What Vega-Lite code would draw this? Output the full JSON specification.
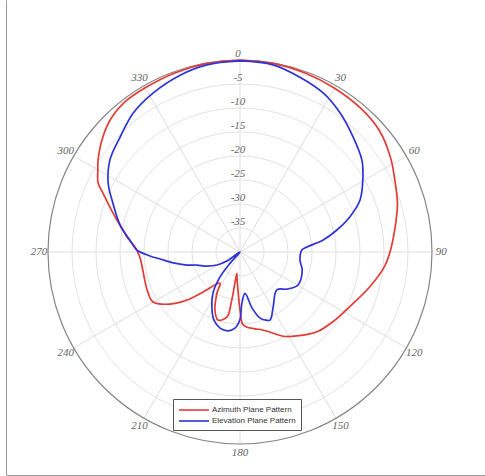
{
  "$schema": "https://vega.github.io/schema/vega-lite/v6.json",
  "width": 479,
  "height": 475,
  "autosize": {"type": "none"},
  "padding": {"left": 6, "top": 0, "right": 0, "bottom": 1},
  "background": "white",
  "config": {
    "view": {"stroke": null},
    "axis": {"grid": false, "ticks": false, "labels": false, "domainColor": "#9a9a9a", "domainWidth": 1},
    "legend": {
      "orient": "none",
      "legendX": 167,
      "legendY": 399,
      "strokeColor": "#555555",
      "fillColor": "white",
      "padding": 5,
      "symbolType": "M-1,0H5",
      "symbolSize": 100,
      "symbolStrokeWidth": 1.6,
      "labelOffset": 22,
      "labelFont": "Liberation Sans",
      "labelFontSize": 8,
      "labelColor": "#333333",
      "rowPadding": 1,
      "labelLimit": 200
    }
  },
  "datasets": {
    "rings": [{"db": -5}, {"db": -10}, {"db": -15}, {"db": -20}, {"db": -25}, {"db": -30}, {"db": -35}],
    "outer": [{"db": 0}],
    "spokes": [{"a": 0}, {"a": 30}, {"a": 60}, {"a": 90}, {"a": 120}, {"a": 150}, {"a": 180}, {"a": 210}, {"a": 240}, {"a": 270}, {"a": 300}, {"a": 330}],
    "ringLabels": [
      {"db": 0, "t": "0"}, {"db": -5, "t": "-5"}, {"db": -10, "t": "-10"}, {"db": -15, "t": "-15"},
      {"db": -20, "t": "-20"}, {"db": -25, "t": "-25"}, {"db": -30, "t": "-30"}, {"db": -35, "t": "-35"}
    ],
    "angleLabels": [
      {"a": 30, "t": "30"}, {"a": 60, "t": "60"}, {"a": 90, "t": "90"}, {"a": 120, "t": "120"},
      {"a": 150, "t": "150"}, {"a": 180, "t": "180"}, {"a": 210, "t": "210"}, {"a": 240, "t": "240"},
      {"a": 270, "t": "270"}, {"a": 300, "t": "300"}, {"a": 330, "t": "330"}
    ],
    "pattern": [
      {"series": "Azimuth Plane Pattern", "angle": 0, "db": 0},
      {"series": "Azimuth Plane Pattern", "angle": 10, "db": -0.1},
      {"series": "Azimuth Plane Pattern", "angle": 20, "db": -0.3},
      {"series": "Azimuth Plane Pattern", "angle": 30, "db": -0.6},
      {"series": "Azimuth Plane Pattern", "angle": 40, "db": -0.9},
      {"series": "Azimuth Plane Pattern", "angle": 49, "db": -1.5},
      {"series": "Azimuth Plane Pattern", "angle": 58, "db": -3.0},
      {"series": "Azimuth Plane Pattern", "angle": 66, "db": -4.6},
      {"series": "Azimuth Plane Pattern", "angle": 73, "db": -5.7},
      {"series": "Azimuth Plane Pattern", "angle": 80, "db": -7.1},
      {"series": "Azimuth Plane Pattern", "angle": 90, "db": -8.75},
      {"series": "Azimuth Plane Pattern", "angle": 96, "db": -9.8},
      {"series": "Azimuth Plane Pattern", "angle": 105, "db": -12.0},
      {"series": "Azimuth Plane Pattern", "angle": 115, "db": -14.2},
      {"series": "Azimuth Plane Pattern", "angle": 126, "db": -15.7},
      {"series": "Azimuth Plane Pattern", "angle": 136, "db": -16.9},
      {"series": "Azimuth Plane Pattern", "angle": 146, "db": -18.9},
      {"series": "Azimuth Plane Pattern", "angle": 153, "db": -20.3},
      {"series": "Azimuth Plane Pattern", "angle": 158, "db": -21.8},
      {"series": "Azimuth Plane Pattern", "angle": 164, "db": -23.1},
      {"series": "Azimuth Plane Pattern", "angle": 169, "db": -23.7},
      {"series": "Azimuth Plane Pattern", "angle": 175, "db": -24.3},
      {"series": "Azimuth Plane Pattern", "angle": 178, "db": -25.0},
      {"series": "Azimuth Plane Pattern", "angle": 180, "db": -27.9},
      {"series": "Azimuth Plane Pattern", "angle": 183, "db": -32.0},
      {"series": "Azimuth Plane Pattern", "angle": 186.5, "db": -34.5},
      {"series": "Azimuth Plane Pattern", "angle": 188.5, "db": -35.5},
      {"series": "Azimuth Plane Pattern", "angle": 189.3, "db": -33.5},
      {"series": "Azimuth Plane Pattern", "angle": 189.8, "db": -29.5},
      {"series": "Azimuth Plane Pattern", "angle": 191.3, "db": -26.2},
      {"series": "Azimuth Plane Pattern", "angle": 197.9, "db": -25.1},
      {"series": "Azimuth Plane Pattern", "angle": 203.3, "db": -26.8},
      {"series": "Azimuth Plane Pattern", "angle": 209.3, "db": -30.2},
      {"series": "Azimuth Plane Pattern", "angle": 212.8, "db": -32.3},
      {"series": "Azimuth Plane Pattern", "angle": 222.8, "db": -28.6},
      {"series": "Azimuth Plane Pattern", "angle": 227.8, "db": -25.1},
      {"series": "Azimuth Plane Pattern", "angle": 233.4, "db": -21.8},
      {"series": "Azimuth Plane Pattern", "angle": 240.1, "db": -19.1},
      {"series": "Azimuth Plane Pattern", "angle": 247.8, "db": -19.1},
      {"series": "Azimuth Plane Pattern", "angle": 259.5, "db": -19.4},
      {"series": "Azimuth Plane Pattern", "angle": 267.1, "db": -19.1},
      {"series": "Azimuth Plane Pattern", "angle": 272.7, "db": -18.1},
      {"series": "Azimuth Plane Pattern", "angle": 277.6, "db": -16.25},
      {"series": "Azimuth Plane Pattern", "angle": 287.1, "db": -12.3},
      {"series": "Azimuth Plane Pattern", "angle": 293.3, "db": -8.9},
      {"series": "Azimuth Plane Pattern", "angle": 296, "db": -7.1},
      {"series": "Azimuth Plane Pattern", "angle": 300, "db": -5.8},
      {"series": "Azimuth Plane Pattern", "angle": 303, "db": -4.75},
      {"series": "Azimuth Plane Pattern", "angle": 310, "db": -2.7},
      {"series": "Azimuth Plane Pattern", "angle": 316.5, "db": -1.25},
      {"series": "Azimuth Plane Pattern", "angle": 322.4, "db": -0.6},
      {"series": "Azimuth Plane Pattern", "angle": 330, "db": -0.5},
      {"series": "Azimuth Plane Pattern", "angle": 340, "db": -0.3},
      {"series": "Azimuth Plane Pattern", "angle": 350, "db": -0.1},
      {"series": "Azimuth Plane Pattern", "angle": 360, "db": 0},
      {"series": "Elevation Plane Pattern", "angle": 0, "db": -0.2},
      {"series": "Elevation Plane Pattern", "angle": 10, "db": -0.4},
      {"series": "Elevation Plane Pattern", "angle": 18.9, "db": -1.5},
      {"series": "Elevation Plane Pattern", "angle": 27.6, "db": -2.6},
      {"series": "Elevation Plane Pattern", "angle": 35.7, "db": -4.3},
      {"series": "Elevation Plane Pattern", "angle": 44.5, "db": -6.4},
      {"series": "Elevation Plane Pattern", "angle": 53.0, "db": -8.2},
      {"series": "Elevation Plane Pattern", "angle": 58.6, "db": -10.0},
      {"series": "Elevation Plane Pattern", "angle": 66.6, "db": -12.75},
      {"series": "Elevation Plane Pattern", "angle": 72.3, "db": -16.0},
      {"series": "Elevation Plane Pattern", "angle": 77.2, "db": -19.3},
      {"series": "Elevation Plane Pattern", "angle": 81.8, "db": -22.5},
      {"series": "Elevation Plane Pattern", "angle": 85.7, "db": -26.0},
      {"series": "Elevation Plane Pattern", "angle": 88.2, "db": -27.1},
      {"series": "Elevation Plane Pattern", "angle": 97.6, "db": -27.4},
      {"series": "Elevation Plane Pattern", "angle": 106.2, "db": -26.5},
      {"series": "Elevation Plane Pattern", "angle": 119.6, "db": -26.1},
      {"series": "Elevation Plane Pattern", "angle": 128.2, "db": -27.5},
      {"series": "Elevation Plane Pattern", "angle": 135.8, "db": -29.0},
      {"series": "Elevation Plane Pattern", "angle": 149.0, "db": -26.6},
      {"series": "Elevation Plane Pattern", "angle": 156.2, "db": -24.5},
      {"series": "Elevation Plane Pattern", "angle": 159.8, "db": -24.9},
      {"series": "Elevation Plane Pattern", "angle": 163.1, "db": -25.6},
      {"series": "Elevation Plane Pattern", "angle": 167.9, "db": -28.1},
      {"series": "Elevation Plane Pattern", "angle": 173.1, "db": -31.3},
      {"series": "Elevation Plane Pattern", "angle": 177.8, "db": -29.4},
      {"series": "Elevation Plane Pattern", "angle": 180, "db": -26.0},
      {"series": "Elevation Plane Pattern", "angle": 183.8, "db": -24.1},
      {"series": "Elevation Plane Pattern", "angle": 188.6, "db": -23.4},
      {"series": "Elevation Plane Pattern", "angle": 194.7, "db": -23.6},
      {"series": "Elevation Plane Pattern", "angle": 200.9, "db": -24.8},
      {"series": "Elevation Plane Pattern", "angle": 205.8, "db": -26.6},
      {"series": "Elevation Plane Pattern", "angle": 213.4, "db": -29.8},
      {"series": "Elevation Plane Pattern", "angle": 218.7, "db": -33.3},
      {"series": "Elevation Plane Pattern", "angle": 221.5, "db": -36.9},
      {"series": "Elevation Plane Pattern", "angle": 228, "db": -40},
      {"series": "Elevation Plane Pattern", "angle": 235.3, "db": -36.7},
      {"series": "Elevation Plane Pattern", "angle": 240.5, "db": -34.5},
      {"series": "Elevation Plane Pattern", "angle": 247.0, "db": -32.5},
      {"series": "Elevation Plane Pattern", "angle": 253.2, "db": -30.6},
      {"series": "Elevation Plane Pattern", "angle": 256.2, "db": -28.6},
      {"series": "Elevation Plane Pattern", "angle": 260.7, "db": -25.9},
      {"series": "Elevation Plane Pattern", "angle": 265.0, "db": -23.3},
      {"series": "Elevation Plane Pattern", "angle": 267.5, "db": -21.2},
      {"series": "Elevation Plane Pattern", "angle": 271.1, "db": -18.5},
      {"series": "Elevation Plane Pattern", "angle": 276.2, "db": -16.9},
      {"series": "Elevation Plane Pattern", "angle": 282.7, "db": -14.4},
      {"series": "Elevation Plane Pattern", "angle": 291.1, "db": -11.6},
      {"series": "Elevation Plane Pattern", "angle": 297.6, "db": -9.0},
      {"series": "Elevation Plane Pattern", "angle": 305.3, "db": -6.8},
      {"series": "Elevation Plane Pattern", "angle": 313.8, "db": -5.4},
      {"series": "Elevation Plane Pattern", "angle": 322.4, "db": -3.5},
      {"series": "Elevation Plane Pattern", "angle": 331.3, "db": -2.25},
      {"series": "Elevation Plane Pattern", "angle": 341.3, "db": -1.1},
      {"series": "Elevation Plane Pattern", "angle": 350.0, "db": -0.4},
      {"series": "Elevation Plane Pattern", "angle": 360, "db": -0.2}
    ]
  },
  "layer": [
    {
      "data": {"name": "rings"},
      "transform": [{"calculate": "datum.db + 40", "as": "r"}],
      "mark": {"type": "point", "shape": "circle", "filled": false, "stroke": "#e2e2e2", "strokeWidth": 1, "opacity": 1},
      "encoding": {
        "x": {"datum": 0, "type": "quantitative", "scale": {"domain": [-48.75, 51.04], "nice": false, "zero": false}, "axis": {"orient": "bottom", "domain": true, "title": null}},
        "y": {"datum": 0, "type": "quantitative", "scale": {"domain": [-46.46, 52.5], "nice": false, "zero": false}, "axis": {"orient": "left", "domain": true, "title": null}},
        "size": {"field": "r", "type": "quantitative", "scale": {"type": "pow", "exponent": 2, "domain": [0, 40], "range": [0, 147456], "zero": true}, "legend": null}
      }
    },
    {
      "data": {"name": "spokes"},
      "transform": [
        {"calculate": "40 * sin(datum.a * PI / 180)", "as": "ex"},
        {"calculate": "40 * cos(datum.a * PI / 180)", "as": "ey"}
      ],
      "mark": {"type": "rule", "stroke": "#dedede", "strokeWidth": 1},
      "encoding": {
        "x": {"field": "ex", "type": "quantitative"},
        "y": {"field": "ey", "type": "quantitative"},
        "x2": {"datum": 0},
        "y2": {"datum": 0}
      }
    },
    {
      "data": {"name": "outer"},
      "transform": [{"calculate": "datum.db + 40", "as": "r"}],
      "mark": {"type": "point", "shape": "circle", "filled": false, "stroke": "#858585", "strokeWidth": 1.2, "opacity": 1},
      "encoding": {
        "x": {"datum": 0, "type": "quantitative"},
        "y": {"datum": 0, "type": "quantitative"},
        "size": {"field": "r", "type": "quantitative", "legend": null}
      }
    },
    {
      "data": {"name": "ringLabels"},
      "transform": [{"calculate": "datum.db + 40", "as": "ly"}],
      "mark": {"type": "text", "font": "Liberation Serif", "fontStyle": "italic", "fontSize": 11, "fill": "#666666", "align": "center", "baseline": "bottom", "dy": -1, "dx": -2},
      "encoding": {
        "x": {"datum": 0, "type": "quantitative"},
        "y": {"field": "ly", "type": "quantitative"},
        "text": {"field": "t"}
      }
    },
    {
      "data": {"name": "angleLabels"},
      "transform": [
        {"calculate": "41.9 * sin(datum.a * PI / 180)", "as": "lx"},
        {"calculate": "41.9 * cos(datum.a * PI / 180)", "as": "ly"}
      ],
      "mark": {"type": "text", "font": "Liberation Serif", "fontStyle": "italic", "fontSize": 11, "fill": "#666666", "align": "center", "baseline": "middle"},
      "encoding": {
        "x": {"field": "lx", "type": "quantitative"},
        "y": {"field": "ly", "type": "quantitative"},
        "text": {"field": "t"}
      }
    },
    {
      "data": {"name": "pattern"},
      "transform": [
        {"calculate": "max(0, datum.db + 40)", "as": "r"},
        {"calculate": "datum.r * sin(datum.angle * PI / 180)", "as": "px"},
        {"calculate": "datum.r * cos(datum.angle * PI / 180)", "as": "py"}
      ],
      "mark": {"type": "line", "strokeWidth": 1.7, "interpolate": "catmull-rom"},
      "encoding": {
        "x": {"field": "px", "type": "quantitative"},
        "y": {"field": "py", "type": "quantitative"},
        "order": {"field": "angle", "type": "quantitative"},
        "color": {
          "field": "series",
          "type": "nominal",
          "scale": {"domain": ["Azimuth Plane Pattern", "Elevation Plane Pattern"], "range": ["#e23b36", "#2d33d6"]},
          "legend": {"title": null}
        }
      }
    }
  ]
}
